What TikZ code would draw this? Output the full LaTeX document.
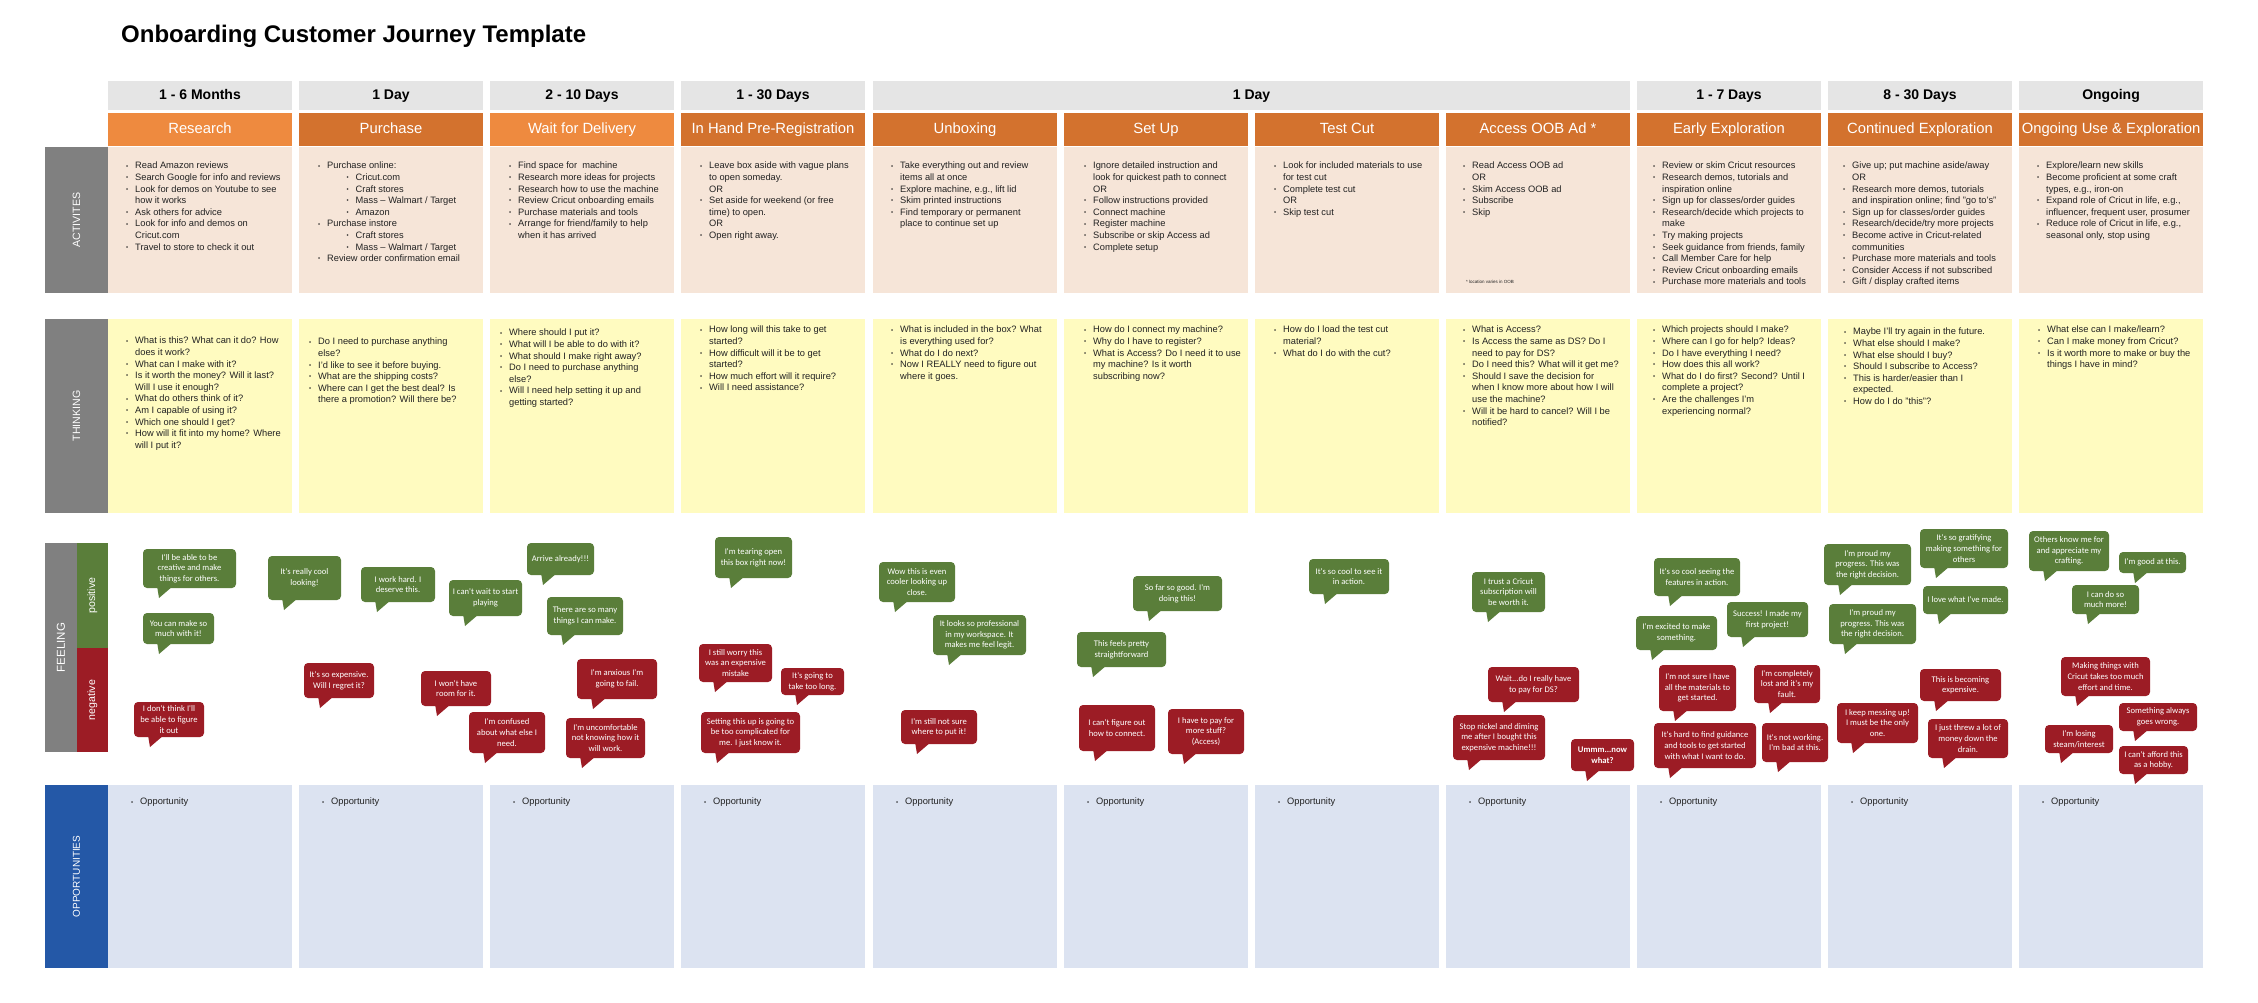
\documentclass[tikz,border=0pt]{standalone}
\usepackage{fontspec}
\setmainfont{Liberation Sans}
\newfontfamily\bubfont{Carlito}
\definecolor{hgray}{HTML}{E5E5E5}
\definecolor{orL}{HTML}{EE8A3F}
\definecolor{orD}{HTML}{D3722E}
\definecolor{actF}{HTML}{F6E5D8}
\definecolor{thF}{HTML}{FFFBC0}
\definecolor{opF}{HTML}{DCE3F1}
\definecolor{lgray}{HTML}{808080}
\definecolor{lblue}{HTML}{2458A7}
\definecolor{posC}{HTML}{5A7E3A}
\definecolor{negC}{HTML}{9C1C25}
\definecolor{txtC}{HTML}{222222}
\newcommand\bulg{{\fontsize{6}{6}\selectfont\raisebox{0.8pt}{•}}}
\newcommand\Bu{\makebox[9pt][l]{\bulg}}
\newcommand\Co{\hspace*{9pt}}
\newcommand\Su{\hspace*{28.5pt}\makebox[9pt][l]{\bulg}}
\tikzset{
  cell/.style={inner sep=0, outer sep=0, anchor=north west},
  hdr/.style={cell, fill=hgray, minimum height=29pt, text height=10.5pt, text depth=2.5pt, font=\fontsize{14}{16}\selectfont\bfseries, text=black},
  stage/.style={cell, minimum width=184pt, minimum height=33pt, text height=11pt, text depth=3pt, text=white, font=\fontsize{14.8}{17}\selectfont},
  actbox/.style={cell, fill=actF, minimum width=184pt, minimum height=146pt},
  thbox/.style={cell, fill=thF, minimum width=184pt, minimum height=194pt},
  opbox/.style={cell, fill=opF, minimum width=184pt, minimum height=183pt},
  lbl/.style={cell, text=white},
  lbltext/.style={rotate=90, text=white, inner sep=0, font=\fontsize{10.6}{12}\selectfont},
  txt/.style={inner sep=0, anchor=north west, align=left, text=txtC, font=\fontsize{9.3}{11.6}\selectfont},
  bub/.style={rounded corners=4pt, inner sep=0, outer sep=0, text=white, align=center, anchor=north west, font=\bubfont\fontsize{8.6}{10.6}\selectfont},
}
\newcommand\bub[7]{%
  \fill[#2] (#3+14,#6-2) -- (#3+16,#6+10) -- (#3+30,#6-2) -- cycle;
  \node[bub, fill=#2, minimum width={(#5-#3)*1pt}, minimum height={(#6-#4)*1pt}] (#1) at (#3,#4) {#7};
}
\begin{document}
\begin{tikzpicture}[x=1pt,y=-1pt]
\useasboundingbox (0,0) rectangle (2258,1002);
\fill[white] (0,0) rectangle (2258,1002);
% title
\node[inner sep=0, anchor=west, font=\fontsize{24}{28}\selectfont\bfseries] (title) at (121,36) {Onboarding Customer Journey Template};
% time headers
\node[hdr, minimum width=184pt] (h1) at (108,81) {1 - 6 Months};
\node[hdr, minimum width=184pt] (h2) at (299,81) {1 Day};
\node[hdr, minimum width=184pt] (h3) at (490,81) {2 - 10 Days};
\node[hdr, minimum width=184pt] (h4) at (681,81) {1 - 30 Days};
\node[hdr, minimum width=757pt] (h5) at (873,81) {1 Day};
\node[hdr, minimum width=184pt] (h6) at (1637,81) {1 - 7 Days};
\node[hdr, minimum width=184pt] (h7) at (1828,81) {8 - 30 Days};
\node[hdr, minimum width=184pt] (h8) at (2019,81) {Ongoing};
% stage headers
\node[stage, fill=orL] (s1) at (108,113) {Research};
\node[stage, fill=orD] (s2) at (299,113) {Purchase};
\node[stage, fill=orL] (s3) at (490,113) {Wait for Delivery};
\node[stage, fill=orD] (s4) at (681,113) {In Hand Pre-Registration};
\node[stage, fill=orD] (s5) at (873,113) {Unboxing};
\node[stage, fill=orD] (s6) at (1064,113) {Set Up};
\node[stage, fill=orD] (s7) at (1255,113) {Test Cut};
\node[stage, fill=orD] (s8) at (1446,113) {Access OOB Ad *};
\node[stage, fill=orD] (s9) at (1637,113) {Early Exploration};
\node[stage, fill=orD] (s10) at (1828,113) {Continued Exploration};
\node[stage, fill=orD] (s11) at (2019,113) {Ongoing Use \& Exploration};
% row labels
\node[lbl, fill=lgray, minimum width=63pt, minimum height=146pt] (lact) at (45,147) {};
\node[lbltext] (lactt) at (lact.center) {ACTIVITES};
\node[lbl, fill=lgray, minimum width=63pt, minimum height=194pt] (lth) at (45,319) {};
\node[lbltext] (ltht) at (lth.center) {THINKING};
\node[lbl, fill=lgray, minimum width=32pt, minimum height=209pt] (lfe) at (45,543) {};
\node[lbltext, font=\fontsize{11.5}{13}\selectfont] (lfet) at (lfe.center) {FEELING};
\node[lbl, fill=posC, minimum width=31pt, minimum height=105pt] (lpos) at (77,543) {};
\node[lbltext] (lpost) at (lpos.center) {positive};
\node[lbl, fill=negC, minimum width=31pt, minimum height=104pt] (lneg) at (77,648) {};
\node[lbltext] (lnegt) at (lneg.center) {negative};
\node[lbl, fill=lblue, minimum width=63pt, minimum height=183pt] (lop) at (45,785) {};
\node[lbltext, font=\fontsize{10}{12}\selectfont] (lopt) at (lop.center) {OPPORTUNITIES};
% boxes
\foreach \x [count=\i] in {108,299,490,681,873,1064,1255,1446,1637,1828,2019}{
  \node[actbox] (act\i) at (\x,147) {};
  \node[thbox] (th\i) at (\x,319) {};
  \node[opbox] (op\i) at (\x,785) {};
  \node[txt] (opt\i) at (\x+23,798) {\Bu Opportunity};
}
% activities text
\node[txt] (a1) at (126,162) {\Bu Read Amazon reviews\\ \Bu Search Google for info and reviews\\ \Bu Look for demos on Youtube to see\\ \Co how it works\\ \Bu Ask others for advice\\ \Bu Look for info and demos on\\ \Co Cricut.com\\ \Bu Travel to store to check it out};
\node[txt] (a2) at (318,162) {\Bu Purchase online:\\ \Su Cricut.com\\ \Su Craft stores\\ \Su Mass – Walmart / Target\\ \Su Amazon\\ \Bu Purchase instore\\ \Su Craft stores\\ \Su Mass – Walmart / Target\\ \Bu Review order confirmation email};
\node[txt] (a3) at (509,162) {\Bu Find space for\ \ machine\\ \Bu Research more ideas for projects\\ \Bu Research how to use the machine\\ \Bu Review Cricut onboarding emails\\ \Bu Purchase materials and tools\\ \Bu Arrange for friend/family to help\\ \Co when it has arrived};
\node[txt] (a4) at (700,162) {\Bu Leave box aside with vague plans\\ \Co to open someday.\\ \Co OR\\ \Bu Set aside for weekend (or free\\ \Co time) to open.\\ \Co OR\\ \Bu Open right away.};
\node[txt] (a5) at (891,162) {\Bu Take everything out and review\\ \Co items all at once\\ \Bu Explore machine, e.g., lift lid\\ \Bu Skim printed instructions\\ \Bu Find temporary or permanent\\ \Co place to continue set up};
\node[txt] (a6) at (1084,162) {\Bu Ignore detailed instruction and\\ \Co look for quickest path to connect\\ \Co OR\\ \Bu Follow instructions provided\\ \Bu Connect machine\\ \Bu Register machine\\ \Bu Subscribe or skip Access ad\\ \Bu Complete setup};
\node[txt] (a7) at (1274,162) {\Bu Look for included materials to use\\ \Co for test cut\\ \Bu Complete test cut\\ \Co OR\\ \Bu Skip test cut};
\node[txt] (a8) at (1463,162) {\Bu Read Access OOB ad\\ \Co OR\\ \Bu Skim Access OOB ad\\ \Bu Subscribe\\ \Bu Skip};
\node[inner sep=0, anchor=west, text=txtC, font=\fontsize{4.5}{5}\selectfont] (a8n) at (1466,282) {* location varies in OOB};
\node[txt] (a9) at (1653,162) {\Bu Review or skim Cricut resources\\ \Bu Research demos, tutorials and\\ \Co inspiration online\\ \Bu Sign up for classes/order guides\\ \Bu Research/decide which projects to\\ \Co make\\ \Bu Try making projects\\ \Bu Seek guidance from friends, family\\ \Bu Call Member Care for help\\ \Bu Review Cricut onboarding emails\\ \Bu Purchase more materials and tools};
\node[txt] (a10) at (1843,162) {\Bu Give up; put machine aside/away\\ \Co OR\\ \Bu Research more demos, tutorials\\ \Co and inspiration online; find "go to's"\\ \Bu Sign up for classes/order guides\\ \Bu Research/decide/try more projects\\ \Bu Become active in Cricut-related\\ \Co communities\\ \Bu Purchase more materials and tools\\ \Bu Consider Access if not subscribed\\ \Bu Gift / display crafted items};
\node[txt] (a11) at (2037,162) {\Bu Explore/learn new skills\\ \Bu Become proficient at some craft\\ \Co types, e.g., iron-on\\ \Bu Expand role of Cricut in life, e.g.,\\ \Co influencer, frequent user, prosumer\\ \Bu Reduce role of Cricut in life, e.g.,\\ \Co seasonal only, stop using};
% thinking text
\node[txt] (t1) at (126,337) {\Bu What is this? What can it do? How\\ \Co does it work?\\ \Bu What can I make with it?\\ \Bu Is it worth the money? Will it last?\\ \Co Will I use it enough?\\ \Bu What do others think of it?\\ \Bu Am I capable of using it?\\ \Bu Which one should I get?\\ \Bu How will it fit into my home? Where\\ \Co will I put it?};
\node[txt] (t2) at (309,338) {\Bu Do I need to purchase anything\\ \Co else?\\ \Bu I'd like to see it before buying.\\ \Bu What are the shipping costs?\\ \Bu Where can I get the best deal? Is\\ \Co there a promotion? Will there be?};
\node[txt] (t3) at (500,329) {\Bu Where should I put it?\\ \Bu What will I be able to do with it?\\ \Bu What should I make right away?\\ \Bu Do I need to purchase anything\\ \Co else?\\ \Bu Will I need help setting it up and\\ \Co getting started?};
\node[txt] (t4) at (700,326) {\Bu How long will this take to get\\ \Co started?\\ \Bu How difficult will it be to get\\ \Co started?\\ \Bu How much effort will it require?\\ \Bu Will I need assistance?};
\node[txt] (t5) at (891,326) {\Bu What is included in the box? What\\ \Co is everything used for?\\ \Bu What do I do next?\\ \Bu Now I REALLY need to figure out\\ \Co where it goes.};
\node[txt] (t6) at (1084,326) {\Bu How do I connect my machine?\\ \Bu Why do I have to register?\\ \Bu What is Access? Do I need it to use\\ \Co my machine? Is it worth\\ \Co subscribing now?};
\node[txt] (t7) at (1274,326) {\Bu How do I load the test cut\\ \Co material?\\ \Bu What do I do with the cut?};
\node[txt] (t8) at (1463,326) {\Bu What is Access?\\ \Bu Is Access the same as DS? Do I\\ \Co need to pay for DS?\\ \Bu Do I need this? What will it get me?\\ \Bu Should I save the decision for\\ \Co when I know more about how I will\\ \Co use the machine?\\ \Bu Will it be hard to cancel? Will I be\\ \Co notified?};
\node[txt] (t9) at (1653,326) {\Bu Which projects should I make?\\ \Bu Where can I go for help? Ideas?\\ \Bu Do I have everything I need?\\ \Bu How does this all work?\\ \Bu What do I do first? Second? Until I\\ \Co complete a project?\\ \Bu Are the challenges I'm\\ \Co experiencing normal?};
\node[txt] (t10) at (1844,328) {\Bu Maybe I'll try again in the future.\\ \Bu What else should I make?\\ \Bu What else should I buy?\\ \Bu Should I subscribe to Access?\\ \Bu This is harder/easier than I\\ \Co expected.\\ \Bu How do I do "this"?};
\node[txt] (t11) at (2038,326) {\Bu What else can I make/learn?\\ \Bu Can I make money from Cricut?\\ \Bu Is it worth more to make or buy the\\ \Co things I have in mind?};
% feeling bubbles
\bub{g1}{posC}{143}{549}{236}{588}{I'll be able to be\\creative and make\\things for others.}
\bub{g2}{posC}{268}{556}{341}{600}{It's really cool\\looking!}
\bub{g3}{posC}{361}{567}{435}{602}{I work hard. I\\deserve this.}
\bub{g4}{posC}{449}{580}{522}{616}{I can't wait to start\\playing}
\bub{g5}{posC}{527}{543}{594}{575}{Arrive already!!!}
\bub{g6}{posC}{143}{613}{214}{644}{You can make so\\much with it!}
\bub{g7}{posC}{547}{597}{623}{635}{There are so many\\things I can make.}
\bub{r1}{negC}{304}{663}{374}{698}{It's so expensive.\\Will I regret it?}
\bub{r2}{negC}{421}{671}{491}{706}{I won't have\\room for it.}
\bub{r3}{negC}{577}{659}{657}{699}{I'm anxious I'm\\going to fail.}
\bub{r4}{negC}{469}{712}{545}{753}{I'm confused\\about what else I\\need.}
\bub{r5}{negC}{566}{718}{645}{758}{I'm uncomfortable\\not knowing how it\\will work.}
\bub{r6}{negC}{134}{702}{204}{737}{I don't think I'll\\be able to figure\\it out}
\bub{g8}{posC}{715}{537}{792}{578}{I'm tearing open\\this box right now!}
\bub{r7}{negC}{699}{644}{772}{682}{I still worry this\\was an expensive\\mistake}
\bub{r8}{negC}{781}{668}{844}{695}{It's going to\\take too long.}
\bub{r9}{negC}{701}{712}{800}{753}{Setting this up is going to\\be too complicated for\\me. I just know it.}
\bub{g9}{posC}{879}{562}{955}{602}{Wow this is even\\cooler looking up\\close.}
\bub{g10}{posC}{933}{615}{1026}{655}{It looks so professional\\in my workspace. It\\makes me feel legit.}
\bub{r10}{negC}{901}{710}{977}{744}{I'm still not sure\\where to put it!}
\bub{g11}{posC}{1133}{576}{1222}{611}{So far so good. I'm\\doing this!}
\bub{g12}{posC}{1077}{632}{1166}{667}{This feels pretty\\straightforward}
\bub{r11}{negC}{1079}{705}{1155}{751}{I can't figure out\\how to connect.}
\bub{r12}{negC}{1168}{709}{1244}{754}{I have to pay for\\more stuff?\\(Access)}
\bub{g13}{posC}{1309}{559}{1389}{594}{It's so cool to see it\\in action.}
\bub{g14}{posC}{1472}{572}{1545}{612}{I trust a Cricut\\subscription will\\be worth it.}
\bub{r13}{negC}{1488}{667}{1579}{702}{Wait...do I really have\\to pay for DS?}
\bub{r14}{negC}{1453}{715}{1545}{760}{Stop nickel and diming\\me after I bought this\\expensive machine!!!}
\bub{r15}{negC}{1571}{739}{1634}{771}{{\bfseries Ummm...now}\\{\bfseries what?}}
\bub{g15}{posC}{1654}{558}{1740}{596}{It's so cool seeing the\\features in action.}
\bub{g16}{posC}{1636}{616}{1717}{650}{I'm excited to make\\something.}
\bub{g17}{posC}{1727}{602}{1808}{637}{Success! I made my\\first project!}
\bub{r16}{negC}{1659}{665}{1736}{711}{I'm not sure I have\\all the materials to\\get started.}
\bub{r17}{negC}{1654}{723}{1756}{768}{It's hard to find guidance\\and tools to get started\\with what I want to do.}
\bub{r18}{negC}{1754}{665}{1820}{703}{I'm completely\\lost and it's my\\fault.}
\bub{r19}{negC}{1762}{723}{1828}{762}{It's not working.\\I'm bad at this.}
\bub{g18}{posC}{1824}{544}{1911}{585}{I'm proud my\\progress. This was\\the right decision.}
\bub{g19}{posC}{1829}{604}{1916}{644}{I'm proud my\\progress. This was\\the right decision.}
\bub{g20}{posC}{1920}{529}{2008}{568}{It's so gratifying\\making something for\\others}
\bub{g21}{posC}{1923}{586}{2008}{614}{I love what I've made.}
\bub{r20}{negC}{1837}{703}{1918}{743}{I keep messing up!\\I must be the only\\one.}
\bub{r21}{negC}{1920}{669}{2001}{701}{This is becoming\\expensive.}
\bub{r22}{negC}{1928}{719}{2008}{758}{I just threw a lot of\\money down the\\drain.}
\bub{g22}{posC}{2029}{531}{2109}{571}{Others know me for\\and appreciate my\\crafting.}
\bub{g23}{posC}{2119}{552}{2186}{573}{I'm good at this.}
\bub{g24}{posC}{2072}{585}{2139}{614}{I can do so\\much more!}
\bub{r23}{negC}{2061}{657}{2150}{696}{Making things with\\Cricut takes too much\\effort and time.}
\bub{r24}{negC}{2119}{703}{2197}{731}{Something always\\goes wrong.}
\bub{r25}{negC}{2045}{725}{2113}{753}{I'm losing\\steam/interest}
\bub{r26}{negC}{2119}{746}{2188}{774}{I can't afford this\\as a hobby.}
\end{tikzpicture}
\end{document}
